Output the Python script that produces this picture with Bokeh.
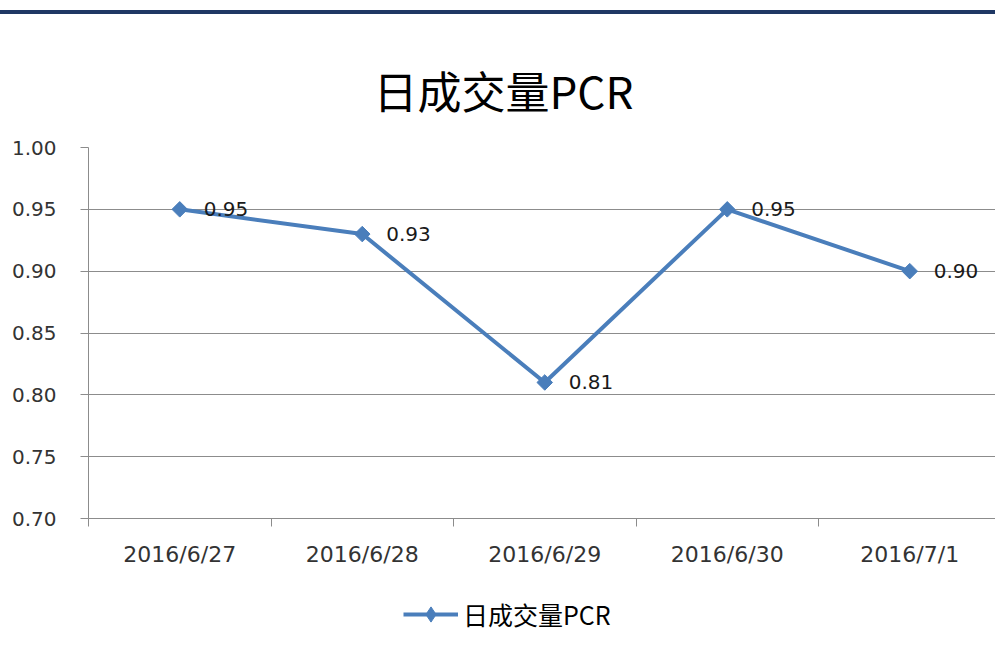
import numpy as np
from bokeh.plotting import figure
from bokeh.models import (Range1d, FixedTicker, Legend, LegendItem, ColumnDataSource,
                          Div, NumeralTickFormatter)
from bokeh.layouts import column
from bokeh.embed import file_html
from bokeh.resources import INLINE
from bokeh.core.properties import value

# ---- data ----
dates = ["2016/6/27", "2016/6/28", "2016/6/29", "2016/6/30", "2016/7/1"]
pcr = [0.95, 0.93, 0.81, 0.95, 0.90]
y_ticks = [0.70, 0.75, 0.80, 0.85, 0.90, 0.95, 1.00]
title_text = "日成交量PCR"
series_name = "日成交量PCR"

LINE_COLOR = "#4A7EBB"
GRID_COLOR = "#8C8C8C"
TEXT_COLOR = "#333333"

x_pos = [i + 0.5 for i in range(len(dates))]
labels = [f"{v:.2f}" for v in pcr]
src = ColumnDataSource(dict(x=x_pos, y=pcr, label=labels))

p = figure(width=995, height=571, output_backend="svg", toolbar_location=None,
           x_range=Range1d(0, 907 / 182.5), y_range=Range1d(0.70, 1.00),
           min_border_left=88, min_border_right=0, min_border_top=133,
           min_border_bottom=67, title=title_text)

p.title.text_font = "Noto Sans CJK SC"
p.title.text_font_size = "44px"
p.title.text_font_style = "normal"
p.title.text_color = "#000000"
p.title.align = "left"
p.title.offset = 285
p.title.standoff = 52

p.outline_line_color = None
p.xgrid.visible = False
p.ygrid.ticker = FixedTicker(ticks=y_ticks)
p.ygrid.grid_line_color = GRID_COLOR
p.ygrid.grid_line_width = 1

# y axis
p.yaxis.ticker = FixedTicker(ticks=y_ticks)
p.yaxis.formatter = NumeralTickFormatter(format="0.00")
p.yaxis.axis_line_color = GRID_COLOR
p.yaxis.major_tick_line_color = GRID_COLOR
p.yaxis.major_tick_out = 8
p.yaxis.major_tick_in = 0
p.yaxis.minor_tick_line_color = None
p.yaxis.major_label_standoff = 24
p.yaxis.major_label_text_font = "DejaVu Sans"
p.yaxis.major_label_text_font_size = "20px"
p.yaxis.major_label_text_color = TEXT_COLOR

# x axis
p.xaxis.ticker = FixedTicker(ticks=x_pos, minor_ticks=list(range(len(dates))))
p.xaxis.major_label_overrides = {xp: d for xp, d in zip(x_pos, dates)}
p.xaxis.axis_line_color = GRID_COLOR
p.xaxis.major_tick_out = 0
p.xaxis.major_tick_in = 0
p.xaxis.major_tick_line_color = None
p.xaxis.minor_tick_line_color = GRID_COLOR
p.xaxis.minor_tick_out = 8
p.xaxis.minor_tick_in = 0
p.xaxis.major_label_standoff = 15
p.xaxis.major_label_text_font = "DejaVu Sans"
p.xaxis.major_label_text_font_size = "22px"
p.xaxis.major_label_text_color = TEXT_COLOR

r_line = p.line("x", "y", source=src, line_color=LINE_COLOR, line_width=4)
r_sc = p.scatter("x", "y", source=src, marker="square", angle=np.pi / 4, size=11,
                 fill_color=LINE_COLOR, line_color=LINE_COLOR)
p.text("x", "y", text="label", source=src, x_offset=24, text_baseline="middle",
       text_font=value("DejaVu Sans"), text_font_size="20px", text_color="#1a1a1a")

# ---- legend strip below the chart (series drawn off-range, only its legend shows) ----
p2 = figure(width=995, height=60, output_backend="svg", toolbar_location=None,
            x_range=Range1d(0, 1), y_range=Range1d(0, 1),
            min_border_left=0, min_border_right=0, min_border_top=0, min_border_bottom=0)
p2.axis.visible = False
p2.grid.visible = False
p2.outline_line_color = None
off_src = ColumnDataSource(dict(x=[-10.0, -9.0], y=[-10.0, -10.0]))
l_line = p2.line("x", "y", source=off_src, line_color=LINE_COLOR, line_width=4)
l_sc = p2.scatter("x", "y", source=off_src, marker="diamond", size=11,
                  fill_color=LINE_COLOR, line_color=LINE_COLOR)
legend = Legend(items=[LegendItem(label=series_name, renderers=[l_line, l_sc])],
                location=(315, 12), orientation="horizontal",
                glyph_width=55, glyph_height=38, label_standoff=5,
                padding=0, margin=0, border_line_color=None,
                background_fill_alpha=0,
                label_text_font="Noto Sans CJK SC", label_text_font_size="25px",
                label_text_color="#000000")
p2.add_layout(legend, "center")

bar = Div(width=995, height=4, styles={"background-color": "#1F3864"}, margin=(10, 0, 0, 0))

layout = column(bar, p, p2, spacing=0)

open("out.html", "w").write(file_html(layout, INLINE))
